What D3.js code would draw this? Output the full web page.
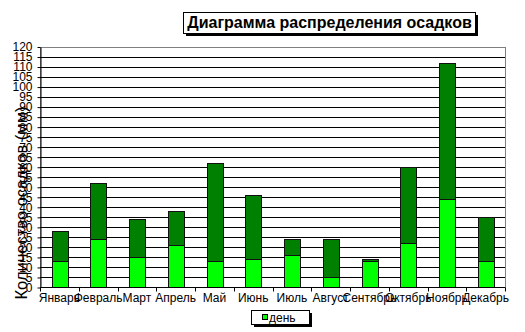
<!DOCTYPE html>
<html>
<head>
<meta charset="utf-8">
<script src="https://cdn.jsdelivr.net/npm/d3@7"></script>
<style>
  body { margin: 0; background: #fff; }
  text { font-family: Arial, "Liberation Sans", sans-serif; }
</style>
</head>
<body>
<div id="chart"></div>
<script>
// months and precipitation (mm), day / night
let months = ['Январь', 'Февраль', 'Март', 'Апрель', 'Май', 'Июнь', 'Июль', 'Август', 'Сентябрь', 'Октябрь', 'Ноябрь', 'Декабрь'];
let dayValues = [13, 24, 15, 21, 13, 14, 16, 5, 13, 22, 44, 13];
let nightValues = [15, 28, 19, 17, 49, 32, 8, 19, 1, 38, 68, 22];
let seriesNames = ['день', 'ночь'];
let yTicks = d3.range(0, 121, 5);

let width = 525, height = 332;
let plotLeft = 40, plotRight = 505, plotTop = 46.5, plotBottom = 287;

let svg = d3.select('#chart').append('svg')
    .attr('width', width)
    .attr('height', height);

svg.append('rect').attr('width', width).attr('height', height).attr('fill', '#fff');

let x = d3.scaleBand()
    .domain(months)
    .range([plotLeft, plotRight])
    .paddingInner(0.6)
    .paddingOuter(0.3);

let y = d3.scaleLinear()
    .domain([0, 120])
    .range([plotBottom, plotTop]);

let crisp = v => Math.round(v) + 0.5;

// plot area frame
svg.append('rect')
    .attr('x', plotLeft + 0.5).attr('y', crisp(y(120)))
    .attr('width', plotRight - plotLeft).attr('height', crisp(y(0)) - crisp(y(120)))
    .attr('fill', 'none')
    .attr('stroke', '#808080');

// gridlines
svg.append('g').selectAll('line')
    .data(yTicks.slice(1))
    .join('line')
    .attr('x1', plotLeft).attr('x2', plotRight)
    .attr('y1', d => crisp(y(d))).attr('y2', d => crisp(y(d)))
    .attr('stroke', d => d == 120 ? '#808080' : '#000')
    .attr('stroke-width', 1);

// stacked bars
let table = months.map((m, i) => ({ month: m, day: dayValues[i], night: nightValues[i] }));
let stack = d3.stack().keys(['day', 'night'])(table);
let colors = { day: '#00ff00', night: '#008000' };

svg.append('g').selectAll('g')
    .data(stack)
    .join('g')
    .attr('fill', d => colors[d.key])
    .selectAll('rect')
    .data(d => d)
    .join('rect')
    .attr('x', d => Math.round(x(d.data.month)) + 0.5)
    .attr('y', d => crisp(y(d[1])))
    .attr('width', Math.round(x.bandwidth()))
    .attr('height', d => crisp(y(d[0])) - crisp(y(d[1])))
    .attr('stroke', '#111')
    .attr('stroke-width', 1);

// y axis
let yAxis = svg.append('g')
    .attr('transform', `translate(${plotLeft + 0.5},0.5)`)
    .call(d3.axisLeft(y).tickValues(yTicks).tickSize(3).tickPadding(5).tickSizeOuter(0));
yAxis.select('.domain').attr('stroke', '#000');
yAxis.selectAll('text').attr('font-size', 12).attr('fill', '#000');

// x axis
let xAxis = svg.append('g')
    .attr('transform', `translate(0,${crisp(y(0))})`)
    .call(d3.axisBottom(x).tickSize(0).tickPadding(6).tickSizeOuter(0));
xAxis.select('.domain').attr('stroke', '#000').attr('d', `M${plotLeft},0H${plotRight}`);
xAxis.selectAll('text').attr('font-size', 12).attr('fill', '#000');

// category boundary ticks
xAxis.append('g').selectAll('line')
    .data(d3.range(months.length + 1))
    .join('line')
    .attr('x1', i => crisp(plotLeft + i * x.step()))
    .attr('x2', i => crisp(plotLeft + i * x.step()))
    .attr('y1', 0).attr('y2', 4)
    .attr('stroke', '#000');

// y axis title
svg.append('text')
    .attr('transform', 'translate(27,203) rotate(-90)')
    .attr('text-anchor', 'middle')
    .attr('font-size', 16.5)
    .attr('fill', '#000')
    .text('Количество осадков (мм)');

// chart title with shadow
let tb = { x: 183, y: 12, w: 292, h: 21 };
svg.append('rect')
    .attr('x', tb.x + 3).attr('y', tb.y + 3).attr('width', tb.w).attr('height', tb.h)
    .attr('fill', '#000');
svg.append('rect')
    .attr('x', tb.x + 0.5).attr('y', tb.y + 0.5).attr('width', tb.w).attr('height', tb.h)
    .attr('fill', '#fff').attr('stroke', '#000');
svg.append('text')
    .attr('x', tb.x + tb.w / 2 + 0.5).attr('y', tb.y + 16)
    .attr('text-anchor', 'middle')
    .attr('font-size', 16)
    .attr('font-weight', 'bold')
    .attr('fill', '#000')
    .text('Диаграмма распределения осадков');

// legend (only the day series visible)
let lb = { x: 251, y: 310, w: 58, h: 14 };
svg.append('rect')
    .attr('x', lb.x + 3).attr('y', lb.y + 3).attr('width', lb.w).attr('height', lb.h)
    .attr('fill', '#000');
svg.append('rect')
    .attr('x', lb.x + 0.5).attr('y', lb.y + 0.5).attr('width', lb.w).attr('height', lb.h)
    .attr('fill', '#fff').attr('stroke', '#000');
svg.append('rect')
    .attr('x', 262.5).attr('y', 314.5).attr('width', 5).attr('height', 5)
    .attr('fill', colors.day).attr('stroke', '#000');
svg.append('text')
    .attr('x', 269).attr('y', 322)
    .attr('font-size', 12)
    .attr('fill', '#000')
    .text(seriesNames[0]);
</script>
</body>
</html>
